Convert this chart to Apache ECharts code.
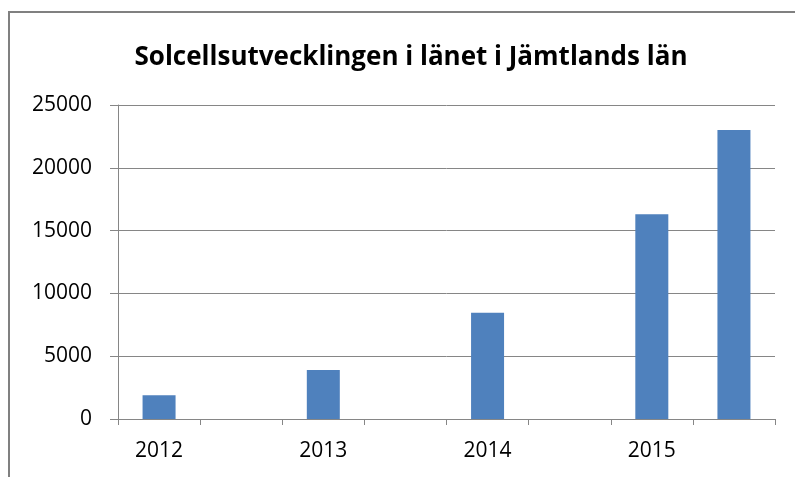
<!DOCTYPE html>
<html>
<head>
<meta charset="utf-8">
<script src="https://cdn.jsdelivr.net/npm/echarts@6/dist/echarts.min.js"></script>
<style>html,body{margin:0;padding:0;background:#fff}#c{width:795px;height:477px}</style>
</head>
<body>
<div id="c"></div>
<script>
const titleText = 'Solcellsutvecklingen i länet i Jämtlands län';
const categories = ['2012', '', '2013', '', '2014', '', '2015', ''];
const values = [1900, null, 3900, null, 8450, null, 16300, 23000];
const yTicks = [0, 5000, 10000, 15000, 20000, 25000];

const chart = echarts.init(document.getElementById('c'), null, {renderer: 'canvas'});
chart.setOption({
  animation: false,
  backgroundColor: '#fff',
  graphic: [
    {type: 'rect', shape: {x: 9, y: 12, width: 820, height: 520}, style: {fill: 'none', stroke: '#808080', lineWidth: 2}, silent: true},
    {type: 'text', x: 411, y: 58, style: {text: titleText, fontFamily: 'Open Sans', fontWeight: 'bold', fontSize: 26, fill: '#000', align: 'center', verticalAlign: 'middle'}}
  ],
  grid: {left: 118, right: 20, top: 105, bottom: 58, containLabel: false},
  xAxis: {
    type: 'category',
    data: categories,
    axisLine: {lineStyle: {color: '#868686', width: 1}},
    axisTick: {show: true, interval: 0, length: 6, lineStyle: {color: '#868686'}},
    axisLabel: {interval: 0, margin: 22, fontFamily: 'Open Sans', fontSize: 21, color: '#000'},
    splitLine: {show: false}
  },
  yAxis: {
    type: 'value',
    min: yTicks[0],
    max: yTicks[yTicks.length - 1],
    interval: yTicks[1] - yTicks[0],
    axisLine: {show: true, lineStyle: {color: '#868686', width: 1}},
    axisTick: {show: true, length: 8, lineStyle: {color: '#868686'}},
    axisLabel: {margin: 26, fontFamily: 'Open Sans', fontSize: 21, color: '#000', formatter: function (v) { return String(v); }},
    splitLine: {show: true, lineStyle: {color: '#868686', width: 1}}
  },
  series: [{
    type: 'bar',
    data: values,
    barWidth: 33,
    itemStyle: {color: '#4F81BD'}
  }]
});
</script>
</body>
</html>
